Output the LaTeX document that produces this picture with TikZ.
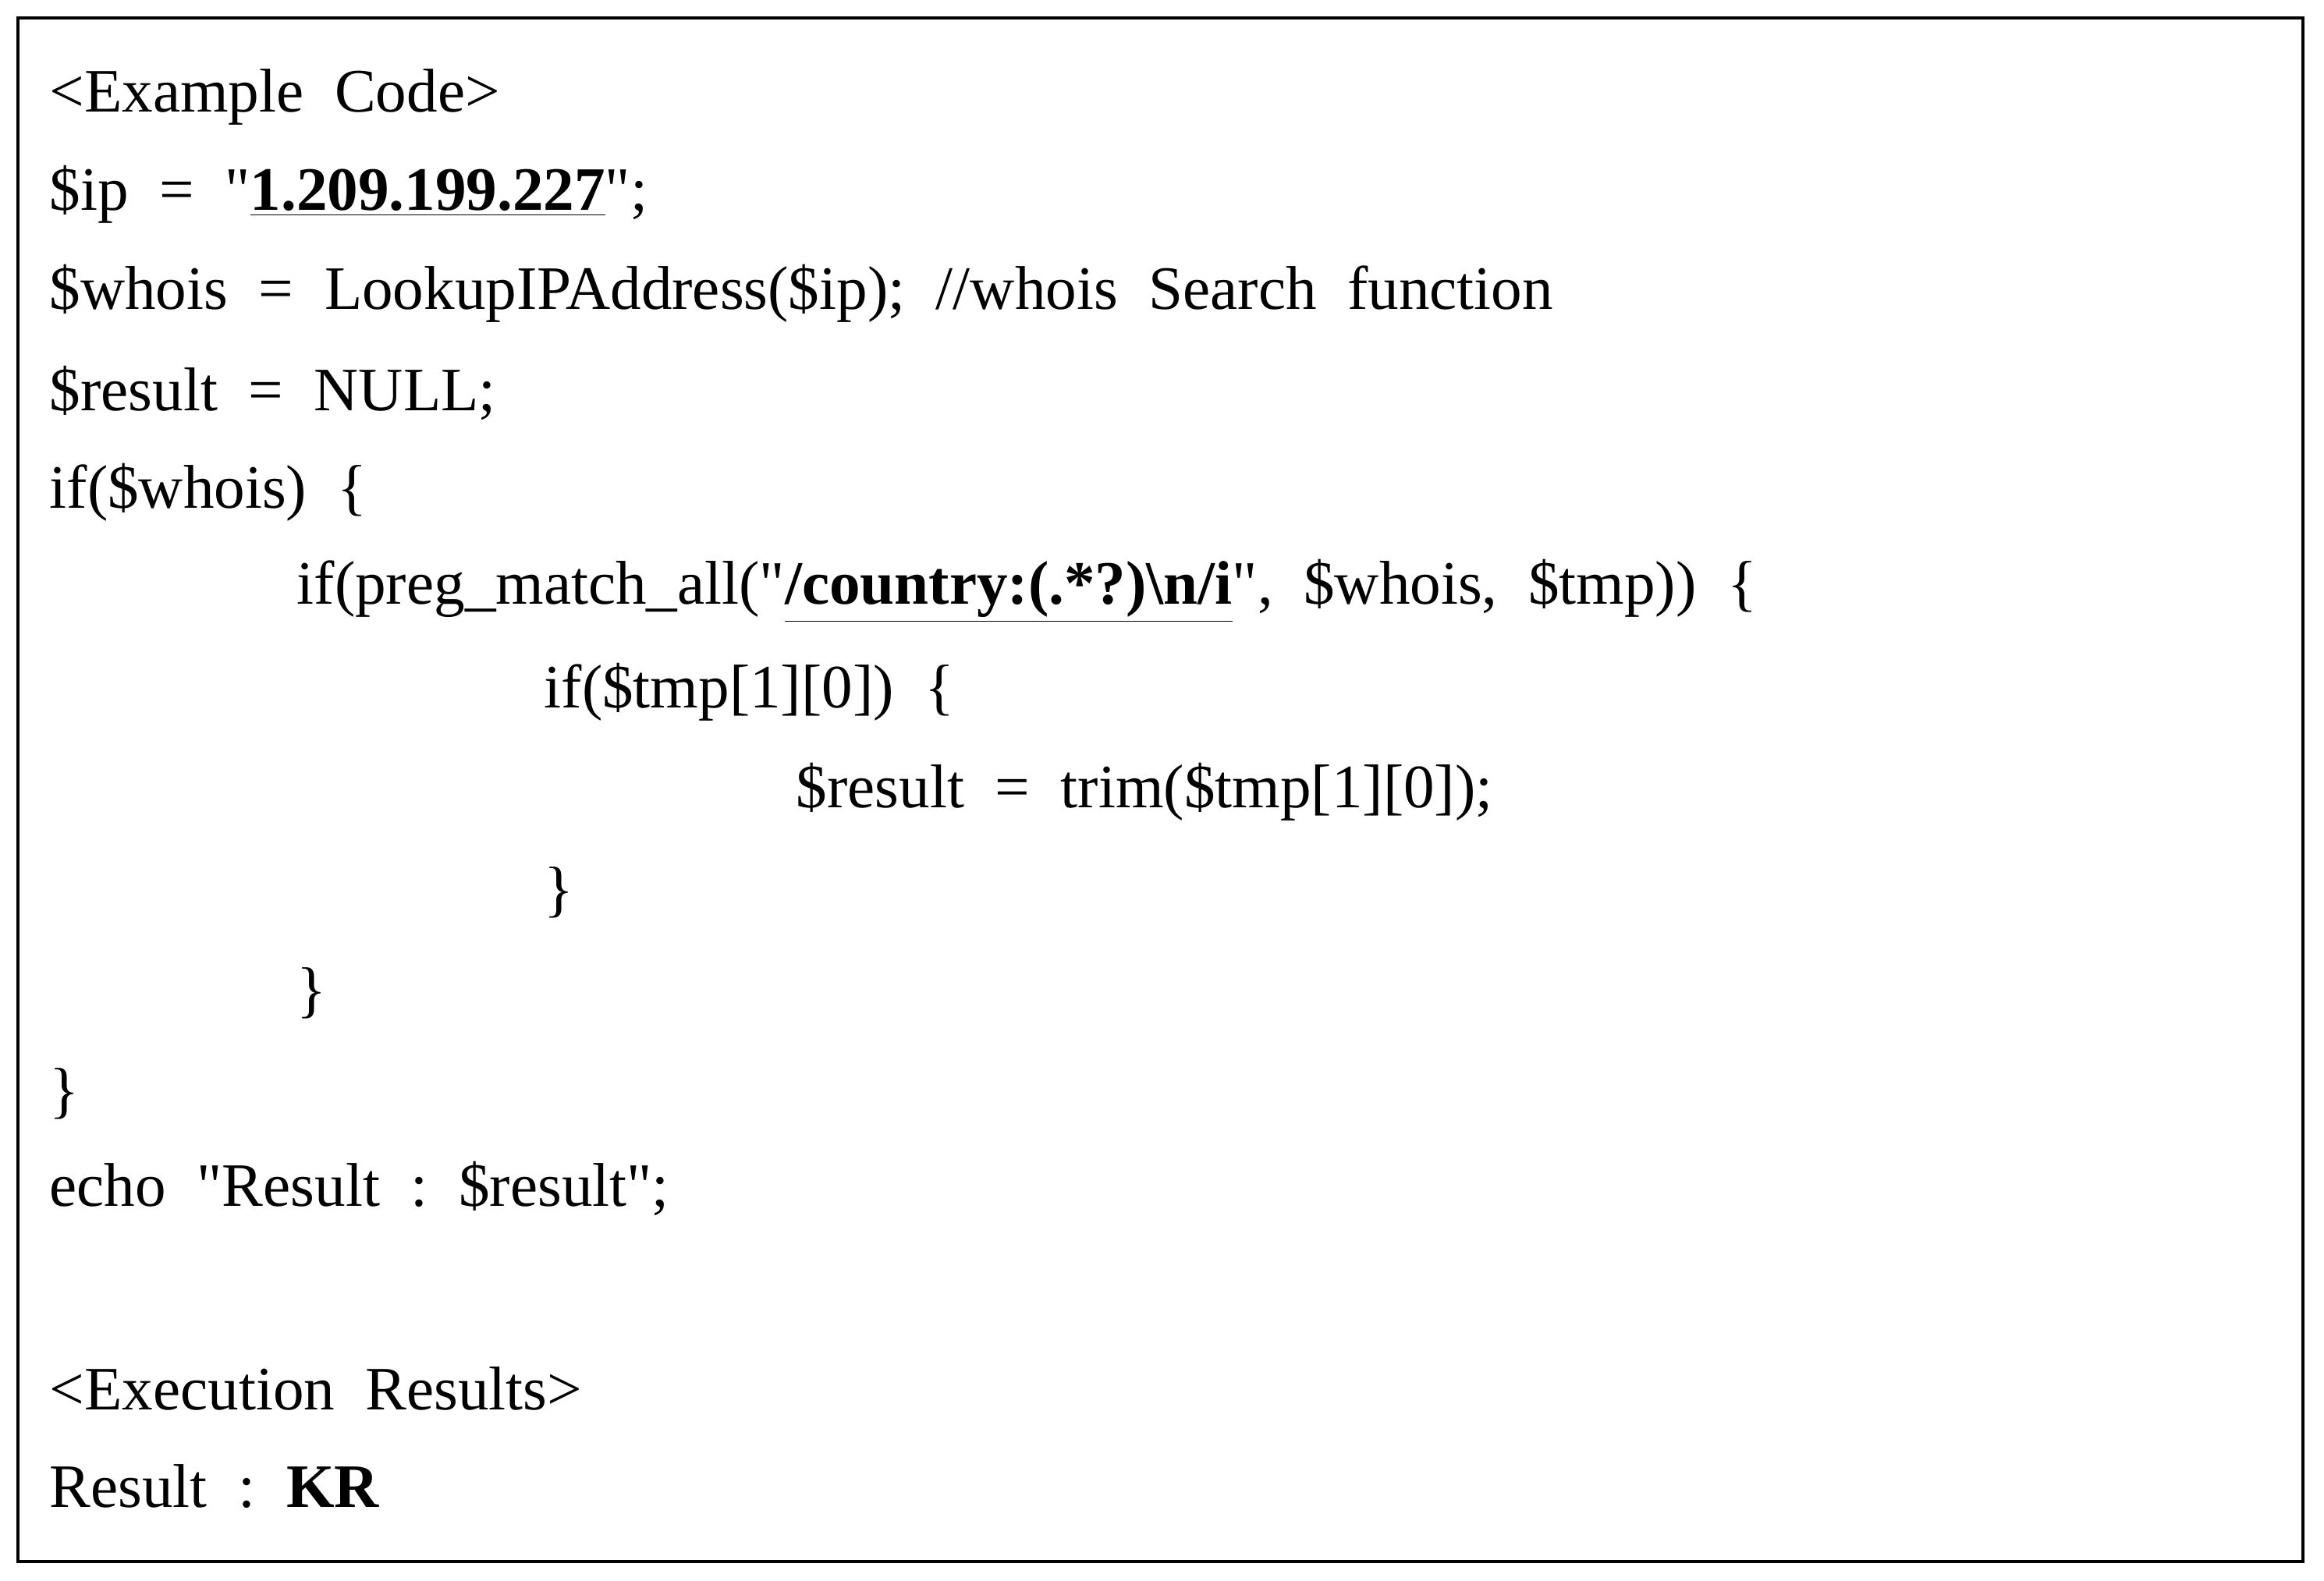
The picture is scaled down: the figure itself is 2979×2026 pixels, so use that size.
\documentclass[tikz,border=0pt]{standalone}
\usepackage{fontspec}
\setmainfont{Liberation Serif}
\begin{document}
\begin{tikzpicture}[x=0.01cm,y=-0.01cm,
  ln/.style={anchor=west,inner sep=0pt,font=\fontsize{22.5}{26}\selectfont}]
\useasboundingbox (0,0) rectangle (2979,2026);
\draw[line width=1.3pt] (23,23) rectangle (2952,2002);
\def\sp{\hspace{0.5em}}
\def\q{\textquotedbl}
\node[ln] (l1) at (63,124) {<Example\sp Code>};
\node[ln] (l2) at (63,249) {\$ip\sp =\sp \q\underline{\textbf{1.209.199.227}}\q;};
\node[ln] (l3) at (63,376) {\$whois\sp =\sp LookupIPAddress(\$ip);\sp //whois\sp Search\sp function};
\node[ln] (l4) at (63,504) {\$result\sp =\sp NULL;};
\node[ln] (l5) at (63,631) {if(\$whois)\sp \{};
\node[ln] (l6) at (380,758) {if(preg\_match\_all(\q\underline{\textbf{/country:(.*?)\textbackslash n/i}}\q,\sp \$whois,\sp \$tmp))\sp \{};
\node[ln] (l7) at (697,887) {if(\$tmp[1][0])\sp \{};
\node[ln] (l8) at (1020,1015) {\$result\sp =\sp trim(\$tmp[1][0]);};
\node[ln] (l9) at (697,1144) {\}};
\node[ln] (l10) at (380,1273) {\}};
\node[ln] (l11) at (63,1402) {\}};
\node[ln] (l12) at (63,1524) {echo\sp \q Result\sp :\sp \$result\q;};
\node[ln] (l13) at (63,1780) {<Execution\sp Results>};
\node[ln] (l14) at (63,1906) {Result\sp :\sp \textbf{KR}};
\end{tikzpicture}
\end{document}
